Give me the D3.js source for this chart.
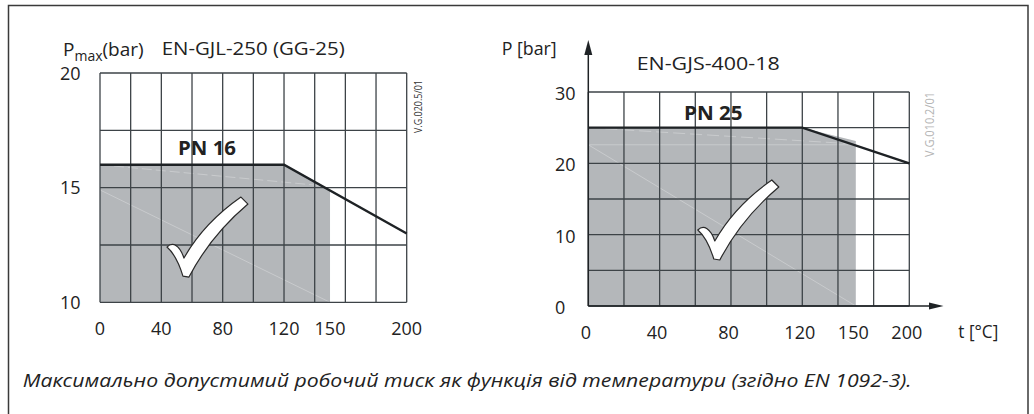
<!DOCTYPE html>
<html>
<head>
<meta charset="utf-8">
<script src="https://cdn.jsdelivr.net/npm/d3@7"></script>
<style>
  html, body { margin: 0; padding: 0; background: #fff; }
  svg { display: block; font-family: "Open Sans", "Noto Sans", sans-serif; }
</style>
</head>
<body>
<svg id="chart" width="1034" height="414"></svg>
<script>
// ---------- data ----------
const leftTitle = "EN-GJL-250 (GG-25)";
const leftClass = "PN 16";
const leftCode = "V.G.020.5/01";
const leftTickT = [0, 40, 80, 120, 150, 200];
const leftTickP = [10, 15, 20];
const leftGridT = d3.range(0, 201, 20);
const leftGridP = d3.range(10, 20.01, 2.5);
const leftLineT = [0, 120, 200];
const leftLineP = [16, 16, 13];
const leftShadeT = 150;

const rightTitle = "EN-GJS-400-18";
const rightClass = "PN 25";
const rightCode = "V.G.010.2/01";
const rightTickT = [0, 40, 80, 120, 150, 200];
const rightTickP = [0, 10, 20, 30];
const rightGridCols = 9;
const rightGridP = d3.range(0, 30.01, 5);
const rightLineT = [0, 120, 200];
const rightLineP = [25, 25, 20];
const rightShadeT = 150;

const caption = "Максимально допустимий робочий тиск як функція від температури (згідно EN 1092-3).";

// ---------- setup ----------
const svg = d3.select("#chart");
const GRID = "#3d4347", DARK = "#1e2225", FILL = "#b4b7ba", TXT = "#222";

// outer frame (left, top, right)
svg.append("path")
  .attr("d", "M8.5,420 V5.5 H1028 V420")
  .attr("fill", "none").attr("stroke", "#3a3a3a").attr("stroke-width", 1.5);

function checkmark(g, cx, cy) {
  g.append("path")
    .attr("transform", `translate(${cx},${cy})`)
    .attr("d", "M-18,-30 C-12,-36 -5,-31 -1,-19 C12,-42 33,-64 56,-80 L63,-73 C37,-51 17,-25 4,0 L-2,-1 C-6,-14 -11,-24 -18,-30 Z")
    .attr("fill", "#fff").attr("stroke", "#2a2a2a").attr("stroke-width", 1.2)
    .attr("stroke-linejoin", "round");
}

function drawPanel(cfg) {
  const { x, y, gridX, gridP, lineT, lineP, shadeT, pMin } = cfg;
  const g = svg.append("g");
  const lineInterp = d3.scaleLinear().domain(lineT).range(lineP);
  const shadeT0 = x.domain()[0];
  const pts = [[shadeT0, pMin]];
  lineT.forEach((t, i) => { if (t <= shadeT) pts.push([t, lineP[i]]); });
  pts.push([shadeT, lineInterp(shadeT)]);
  pts.push([shadeT, pMin]);
  g.append("path")
    .attr("d", d3.line().x(d => x(d[0])).y(d => y(d[1]))(pts) + "Z")
    .attr("fill", FILL);
  cfg.faint.forEach(f => {
    g.append("line")
      .attr("x1", x(f[0])).attr("y1", y(f[1]))
      .attr("x2", x(f[2])).attr("y2", y(f[3]))
      .attr("stroke", "#fff").attr("stroke-opacity", 0.35)
      .attr("stroke-width", 0.8).attr("stroke-dasharray", f[4] || null);
  });
  const [px0, px1] = [gridX[0], gridX[gridX.length - 1]];
  g.selectAll(".v").data(gridX).join("line")
    .attr("x1", d => d).attr("x2", d => d)
    .attr("y1", y(gridP[0])).attr("y2", y(gridP[gridP.length - 1]))
    .attr("stroke", GRID).attr("stroke-width", 1.3);
  g.selectAll(".h").data(gridP).join("line")
    .attr("x1", px0).attr("x2", px1)
    .attr("y1", d => y(d)).attr("y2", d => y(d))
    .attr("stroke", GRID).attr("stroke-width", 1.3);
  g.append("path")
    .attr("d", d3.line().x((d, i) => x(lineT[i])).y((d, i) => y(lineP[i]))(lineT))
    .attr("fill", "none").attr("stroke", DARK).attr("stroke-width", 2.4);
  checkmark(g, x(cfg.check[0]), y(cfg.check[1]));
  return g;
}

// ---------- left panel ----------
const xL = d3.scaleLinear().domain([0, 200]).range([100, 406.7]);
const yL = d3.scaleLinear().domain([10, 20]).range([302.3, 73]);
const gL = drawPanel({
  x: xL, y: yL, gridX: leftGridT.map(xL), gridP: leftGridP,
  lineT: leftLineT, lineP: leftLineP, shadeT: leftShadeT, pMin: 10,
  check: [55.4, 11.1],
  faint: [[0, 14.9, 150, 10], [0, 16, 150, 15.05, "10,4"]]
});
gL.selectAll(".yt").data(leftTickP).join("text")
  .attr("x", 80.5).attr("y", d => yL(d) + 6.5)
  .attr("text-anchor", "end").attr("font-size", 18).attr("fill", TXT).text(d => d);
gL.selectAll(".xt").data(leftTickT).join("text")
  .attr("x", d => xL(d)).attr("y", 335)
  .attr("text-anchor", "middle").attr("font-size", 18).attr("fill", TXT).text(d => d);
const pl = gL.append("text").attr("x", 63).attr("y", 56).attr("font-size", 19).attr("fill", TXT);
pl.append("tspan").text("P");
pl.append("tspan").attr("dy", 5).attr("font-size", 14).text("max");
pl.append("tspan").attr("dy", -5).text("(bar)");
gL.append("text").attr("x", 161.7).attr("y", 55).attr("font-size", 19).attr("fill", TXT)
  .attr("textLength", 183).attr("lengthAdjust", "spacingAndGlyphs").text(leftTitle);
gL.append("text").attr("x", 207).attr("y", 155).attr("font-size", 19).attr("font-weight", "bold")
  .attr("text-anchor", "middle").attr("fill", TXT)
  .attr("textLength", 58).attr("lengthAdjust", "spacingAndGlyphs").text(leftClass);
gL.append("text").attr("transform", "translate(421.5,106.5) rotate(-90)")
  .attr("text-anchor", "middle").attr("font-size", 10).attr("fill", "#333")
  .attr("textLength", 53).attr("lengthAdjust", "spacingAndGlyphs").text(leftCode);

// ---------- right panel ----------
const colR = d3.scaleLinear().domain([0, rightGridCols]).range([588.3, 909.3]);
const xR = d3.scaleLinear().domain([0, 120, 150, 200]).range([colR(0), colR(6), colR(7.5), colR(9)]);
const yR = d3.scaleLinear().domain([0, 30]).range([306, 92]);
const gR = drawPanel({
  x: xR, y: yR, gridX: d3.range(0, rightGridCols + 1).map(colR), gridP: rightGridP,
  lineT: rightLineT, lineP: rightLineP, shadeT: rightShadeT, pMin: 0,
  check: [71.5, 6.45],
  faint: [[0, 22.6, 150, 0], [0, 22.6, 150, 22.6], [0, 25, 150, 22.7, "12,5"]]
});
gR.append("line").attr("x1", xR(0)).attr("x2", xR(0)).attr("y1", yR(0)).attr("y2", 52)
  .attr("stroke", DARK).attr("stroke-width", 1.5);
gR.append("path").attr("d", `M${xR(0)},40 L${xR(0) - 4},55 L${xR(0) + 4},55 Z`).attr("fill", DARK);
gR.append("line").attr("x1", xR(0)).attr("x2", 932).attr("y1", yR(0)).attr("y2", yR(0))
  .attr("stroke", DARK).attr("stroke-width", 1.5);
gR.append("path").attr("d", `M943.5,${yR(0)} L929,${yR(0) - 3.5} L929,${yR(0) + 3.5} Z`).attr("fill", DARK);

gR.selectAll(".yt").data(rightTickP).join("text")
  .attr("x", 555).attr("y", d => yR(d) + 8)
  .attr("text-anchor", "start").attr("font-size", 18).attr("fill", TXT).text(d => d);
gR.selectAll(".xt").data(rightTickT).join("text")
  .attr("x", d => xR(d) - 2.5).attr("y", 338.5)
  .attr("text-anchor", "middle").attr("font-size", 18).attr("fill", TXT).text(d => d);
gR.append("text").attr("x", 501.7).attr("y", 55).attr("font-size", 19).attr("fill", TXT)
  .attr("textLength", 55).attr("lengthAdjust", "spacingAndGlyphs").text("P [bar]");
gR.append("text").attr("x", 636.7).attr("y", 70).attr("font-size", 19).attr("fill", TXT)
  .attr("textLength", 143).attr("lengthAdjust", "spacingAndGlyphs").text(rightTitle);
gR.append("text").attr("x", 713.3).attr("y", 119.5).attr("font-size", 19).attr("font-weight", "bold")
  .attr("text-anchor", "middle").attr("fill", TXT)
  .attr("textLength", 58.7).attr("lengthAdjust", "spacingAndGlyphs").text(rightClass);
gR.append("text").attr("x", 958.3).attr("y", 337.5).attr("font-size", 19).attr("fill", TXT)
  .attr("textLength", 40).attr("lengthAdjust", "spacingAndGlyphs").text("t [°C]");
gR.append("text").attr("transform", "translate(934,124.5) rotate(-90)")
  .attr("text-anchor", "middle").attr("font-size", 12).attr("fill", "#b5b5b5")
  .attr("textLength", 65).attr("lengthAdjust", "spacingAndGlyphs").text(rightCode);

// ---------- caption ----------
svg.append("text").attr("x", 22.7).attr("y", 387).attr("font-size", 19)
  .attr("font-style", "italic").attr("fill", TXT)
  .attr("textLength", 889).attr("lengthAdjust", "spacingAndGlyphs").text(caption);
</script>
</body>
</html>
